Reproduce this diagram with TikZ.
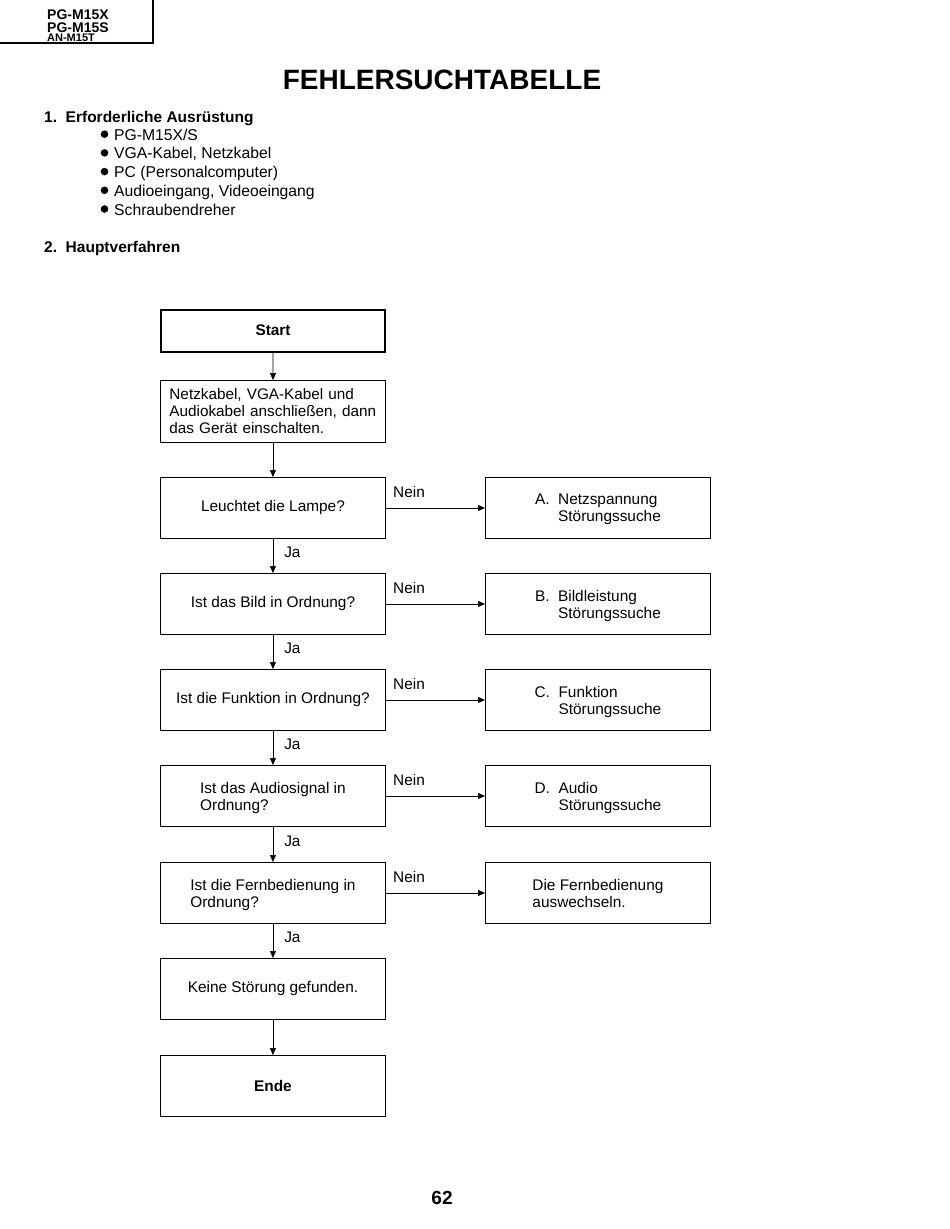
\documentclass[tikz,border=0pt]{standalone}
\usepackage{fontspec}
\setmainfont{Liberation Sans}
\usetikzlibrary{arrows.meta}
\begin{document}
\begin{tikzpicture}[x=1pt,y=-1pt,
  every node/.style={font=\fontsize{15.4}{17}\selectfont, inner sep=0pt},
  box/.style={draw, line width=0.9pt, minimum width=225pt, minimum height=61pt, anchor=north west},
  two/.style={align=left, text depth=0pt},
  arr/.style={-{Triangle[length=7pt,width=6pt]}, line width=0.6pt},
  arrb/.style={-{Triangle[length=7pt,width=6pt]}, line width=0.9pt},
  lbl/.style={anchor=base west},
  hd/.style={anchor=base west, font=\fontsize{14}{14}\selectfont\bfseries}
]
\useasboundingbox (0,0) rectangle (950,1229);
% header
\coordinate (h1) at (0,43);
\coordinate (h2) at (153,43);
\coordinate (h3) at (153,0);
\draw[line width=1.2pt] (h1) -- (h2) -- (h3);
\node[hd] (m1) at (47,19) {PG-M15X};
\node[hd] (m2) at (47,32) {PG-M15S};
\node[anchor=base west, font=\fontsize{11}{11}\selectfont\bfseries] (m3) at (47,41.5) {AN-M15T};
% title
\node[anchor=base, font=\fontsize{28}{28}\selectfont\bfseries] (title) at (442,89) {FEHLERSUCHTABELLE};
\node[lbl, font=\fontsize{15.5}{17}\selectfont\bfseries] (s1) at (44,122) {1.\ \ Erforderliche Ausrüstung};
\foreach \t [count=\i] in {PG-M15X/S, {VGA-Kabel, Netzkabel}, PC (Personalcomputer), {Audioeingang, Videoeingang}, Schraubendreher}{
  \node[lbl, font=\fontsize{15.7}{17}\selectfont] (it\i) at (114,121.5+18.7*\i) {\t};
  \fill (104.5,115.5+18.7*\i) circle (3.8pt);
}
\node[lbl, font=\fontsize{15.5}{17}\selectfont\bfseries] (s2) at (44,252) {2.\ \ Hauptverfahren};
% flowchart
\node[draw, line width=2.2pt, minimum width=223.5pt, minimum height=42pt, anchor=north west, font=\fontsize{15.4}{17}\selectfont\bfseries] (start) at (160.2,308.5) {Start};
\node[box, minimum height=62pt, text width=207pt, inner xsep=9pt, align=left, font=\fontsize{15.3}{17}\selectfont] (conn) at (160,380) {\mbox{Netzkabel, VGA-Kabel und}\\\mbox{Audiokabel anschließen, dann}\\\mbox{das Gerät einschalten.}};
\node[box] (q1) at (160,477) {Leuchtet die Lampe?};
\node[box] (q2) at (160,573) {Ist das Bild in Ordnung?};
\node[box] (q3) at (160,669) {Ist die Funktion in Ordnung?};
\node[box, two] (q4) at (160,765) {Ist das Audiosignal in\\Ordnung?\hspace*{8pt}};
\node[box, two] (q5) at (160,862) {Ist die Fernbedienung in\\Ordnung?\hspace*{6pt}};
\node[box] (ok) at (160,958) {Keine Störung gefunden.};
\node[box, font=\fontsize{15.4}{17}\selectfont\bfseries] (ende) at (160,1055) {Ende};
% right boxes
\node[box, two] (a) at (485,477) {A.\ \ Netzspannung\\\hphantom{A.\ \ }Störungssuche};
\node[box, two] (b) at (485,573) {B.\ \ Bildleistung\\\hphantom{B.\ \ }Störungssuche};
\node[box, two] (c) at (485,669) {C.\ \ Funktion\\\hphantom{C.\ \ }Störungssuche};
\node[box, two] (d) at (485,765) {D.\ \ Audio\\\hphantom{D.\ \ }Störungssuche};
\node[box, two] (e) at (485,862) {Die Fernbedienung\\auswechseln.};
% vertical arrows
\draw[arr] (start) -- (conn);
\draw[arr] (conn) -- (q1);
\draw[arr] (q1) -- node[right=11pt, pos=0.4] (j1) {Ja} (q2);
\draw[arr] (q2) -- node[right=11pt, pos=0.4] (j2) {Ja} (q3);
\draw[arr] (q3) -- node[right=11pt, pos=0.4] (j3) {Ja} (q4);
\draw[arr] (q4) -- node[right=11pt, pos=0.4] (j4) {Ja} (q5);
\draw[arr] (q5) -- node[right=11pt, pos=0.4] (j5) {Ja} (ok);
\draw[arr] (ok) -- (ende);
% horizontal arrows
\draw[arrb] (q1) -- (a);
\draw[arr] (q2) -- (b);
\draw[arrb] (q3) -- (c);
\draw[arr] (q4) -- (d);
\draw[arr] (q5) -- (e);
\foreach \q/\y in {q1/497, q2/593, q3/689, q4/785, q5/882}{
  \node[lbl] (n\q) at (393,\y) {Nein};
}
\node[anchor=base, font=\fontsize{19}{19}\selectfont\bfseries] (page) at (442,1204) {62};
\end{tikzpicture}
\end{document}
